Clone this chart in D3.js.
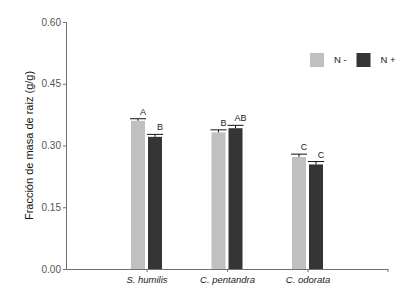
<!DOCTYPE html>
<html>
<head>
<meta charset="utf-8">
<script src="https://cdn.jsdelivr.net/npm/d3@7"></script>
<style>
  html, body { margin: 0; padding: 0; background: #fff; }
  svg { display: block; }
</style>
</head>
<body>
<svg id="chart"></svg>
<script>
/* root mass fraction by species, N- / N+ */
const SPECIES   = ['S. humilis', 'C. pentandra', 'C. odorata'];
const SERIES    = ['N -', 'N +'];
const MEAN_NMIN = [0.360, 0.332, 0.272];
const MEAN_NPLUS = [0.321, 0.342, 0.254];
const ERR_NMIN  = [0.005, 0.006, 0.007];
const ERR_NPLUS = [0.006, 0.007, 0.007];
const LETTERS_NMIN  = ['A', 'B', 'C'];
const LETTERS_NPLUS = ['B', 'AB', 'C'];
const Y_TICKS   = [0, 0.15, 0.30, 0.45, 0.60];

const COLOR = { 'N -': '#c0c0c0', 'N +': '#353535' };
const FONT  = 'Arial, "Liberation Sans", sans-serif';
const AXIS  = '#707070';

const W = 415, H = 290;
const margin = { top: 22, right: 27, bottom: 21, left: 66 };
const iW = W - margin.left - margin.right;
const iH = H - margin.top - margin.bottom;

const svg = d3.select('#chart').attr('width', W).attr('height', H);
const g = svg.append('g').attr('transform', `translate(${margin.left},${margin.top})`);

const x = d3.scalePoint().domain(SPECIES).range([0, iW]).padding(1);
const y = d3.scaleLinear().domain([0, 0.6]).range([iH, 0]);

const rows = [];
SPECIES.forEach((s, i) => {
  rows.push({ species: s, series: 'N -', v: MEAN_NMIN[i], e: ERR_NMIN[i], letter: LETTERS_NMIN[i], off: -1 });
  rows.push({ species: s, series: 'N +', v: MEAN_NPLUS[i], e: ERR_NPLUS[i], letter: LETTERS_NPLUS[i], off: 1 });
});

const BW = 14, GAP = 1.5;
const barX = d => d.off < 0 ? x(d.species) - GAP - BW : x(d.species) + GAP;

/* ── bars ── */
g.selectAll('.bar')
  .data(rows)
  .join('rect')
  .attr('x', barX)
  .attr('y', d => y(d.v))
  .attr('width', BW)
  .attr('height', d => iH - y(d.v))
  .attr('fill', d => COLOR[d.series]);

/* ── error bars (upper only) ── */
g.selectAll('.err')
  .data(rows)
  .join('line')
  .attr('x1', d => barX(d) + BW / 2)
  .attr('x2', d => barX(d) + BW / 2)
  .attr('y1', d => y(d.v))
  .attr('y2', d => y(d.v + d.e))
  .attr('stroke', '#111')
  .attr('stroke-width', 1);

g.selectAll('.cap')
  .data(rows)
  .join('line')
  .attr('x1', d => barX(d) - 1)
  .attr('x2', d => barX(d) + BW + 1)
  .attr('y1', d => y(d.v + d.e))
  .attr('y2', d => y(d.v + d.e))
  .attr('stroke', '#111')
  .attr('stroke-width', 1);

/* ── significance letters ── */
g.selectAll('.letter')
  .data(rows)
  .join('text')
  .attr('x', d => barX(d) + BW / 2 + 5)
  .attr('y', d => y(d.v + d.e) - 4)
  .attr('text-anchor', 'middle')
  .attr('font-family', FONT)
  .attr('font-size', 9)
  .attr('fill', '#222')
  .text(d => d.letter);

/* ── axes ── */
g.append('g')
  .call(d3.axisLeft(y).tickValues(Y_TICKS).tickFormat(d3.format('.2f')).tickSize(3).tickPadding(2))
  .call(ax => ax.select('.domain').attr('stroke', AXIS))
  .call(ax => ax.selectAll('.tick line').attr('stroke', AXIS))
  .call(ax => ax.selectAll('.tick text')
    .attr('fill', '#555').attr('font-size', 10).attr('font-family', FONT));

const xAxis = g.append('g')
  .attr('transform', `translate(0,${iH})`)
  .call(d3.axisBottom(x).tickSize(3).tickPadding(4).tickSizeOuter(0))
  .call(ax => ax.select('.domain').attr('stroke', AXIS))
  .call(ax => ax.selectAll('.tick line').attr('stroke', AXIS))
  .call(ax => ax.selectAll('.tick text')
    .attr('fill', '#222').attr('font-size', 9.5).attr('font-style', 'italic').attr('font-family', FONT));

// end tick at right of x axis
xAxis.append('line')
  .attr('x1', iW).attr('x2', iW).attr('y1', 0).attr('y2', 3)
  .attr('stroke', AXIS);

/* ── y title ── */
svg.append('text')
  .attr('transform', `translate(33,${margin.top + iH / 2}) rotate(-90)`)
  .attr('text-anchor', 'middle')
  .attr('font-family', FONT)
  .attr('font-size', 11)
  .attr('fill', '#111')
  .text('Fracción de masa de raiz (g/g)');

/* ── legend ── */
const legend = svg.append('g').attr('transform', 'translate(310,53)');
const lx = d3.scaleOrdinal().domain(SERIES).range([0, 46.5]);
legend.selectAll('rect')
  .data(SERIES)
  .join('rect')
  .attr('x', d => lx(d))
  .attr('y', 0)
  .attr('width', 14)
  .attr('height', 14)
  .attr('fill', d => COLOR[d]);
legend.selectAll('text')
  .data(SERIES)
  .join('text')
  .attr('x', d => lx(d) + 24)
  .attr('y', 7)
  .attr('dominant-baseline', 'middle')
  .attr('font-family', FONT)
  .attr('font-size', 9.5)
  .attr('fill', '#222')
  .text(d => d);
</script>
</body>
</html>
